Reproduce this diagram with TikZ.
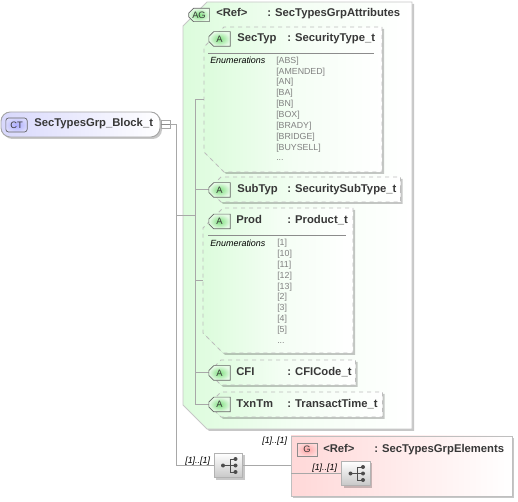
\documentclass[tikz,border=0pt]{standalone}
\usepackage{fontspec}
\setmainfont{Liberation Sans}
\usetikzlibrary{
	positioning,
	fit,
	shadows,
	shapes.misc
}
\definecolor{conncol}{HTML}{A8A8A8}
\definecolor{dashcol}{HTML}{BDBDBD}
\definecolor{attgreen}{HTML}{DCFCDC}
\definecolor{attmiddle}{HTML}{F4FEF4}
\definecolor{badgegreen}{HTML}{80E080}
\definecolor{badgepale}{HTML}{E6FBE6}
\definecolor{grppink}{HTML}{FFD8D8}
\definecolor{ctblue}{HTML}{D8D8FC}
\definecolor{enumgray}{HTML}{808080}
\definecolor{textdark}{HTML}{383838}

\begin{document}
\begin{tikzpicture}[
		x=0.75pt, y=-0.75pt,
		conn/.style={draw=conncol, line width=0.6pt},
		softshadow/.style={general shadow={fill=black, opacity=0.22, shadow xshift=1.5pt, shadow yshift=-1.5pt}},
		cham/.style={chamfered rectangle, chamfered rectangle corners={north west,south west}, inner sep=0pt, outer sep=0pt},
		attgroup/.style={cham, draw=black!22, line width=0.7pt, left color=attgreen, right color=white, middle color=attmiddle, chamfered rectangle xsep=9pt, chamfered rectangle ysep=9pt, softshadow},
		attbox/.style={cham, draw=dashcol, dashed, line width=0.7pt, left color=attgreen, right color=white, middle color=attmiddle, chamfered rectangle xsep=7.5pt, chamfered rectangle ysep=7.5pt, softshadow},
		attline/.style={cham, draw=dashcol, dashed, line width=0.7pt, left color=attgreen, right color=white, middle color=attmiddle, chamfered rectangle xsep=6pt, chamfered rectangle ysep=6pt, softshadow},
		badge/.style={cham, draw=black!60, line width=0.5pt, inner color=badgegreen, outer color=badgepale, minimum width=16pt, minimum height=11pt, chamfered rectangle xsep=1.8pt, chamfered rectangle ysep=1.8pt, font=\fontsize{7}{8}\selectfont, text=textdark},
		header/.style={anchor=base west, inner sep=0pt, font=\fontsize{8.45}{10}\selectfont\bfseries, text=textdark},
		enumlabel/.style={anchor=base west, inner sep=0pt, font=\fontsize{6.7}{8}\selectfont\itshape, text=black},
		enumlist/.style={anchor=north west, inner sep=0pt, align=left, font=\fontsize{6.6}{8.15}\selectfont, text=enumgray},
		occurs/.style={anchor=base west, inner sep=0pt, font=\fontsize{6.7}{8}\selectfont\itshape, text=black},
		seqnode/.style={draw=black!30, line width=0.6pt, top color=white, bottom color=black!22, minimum width=21.5pt, minimum height=18.5pt, inner sep=0pt, softshadow},
		seqicon/.pic={
			\fill[black!70] (-5.5,0) circle (2);
			\fill[black!70] (7,-6.5) circle (2);
			\fill[black!70] (7,0) circle (2);
			\fill[black!70] (7,6.5) circle (2);
			\draw[black!70, line width=0.5pt] (-5.5,0) -- (7,0) (7,-6.5) -- (1.5,-6.5) -- (1.5,6.5) -- (7,6.5);
		}
		]
		\useasboundingbox (0,0) rectangle (518,502);
		
		% =========================
		% Attribute group
		% =========================
		\node[attgroup, fit={(195,14) (400,417)}] (attgrp) {};
		\node[badge, minimum width=15.5pt, minimum height=10pt] (agbadge) at (199,15) {AG};
		\node[header] (agname) at (216,17) {<Ref>};
		\node[header] (agtype) at (267,17) {: SecTypesGrpAttributes};
		
		% =========================
		% Connectors in the group
		% =========================
		\coordinate (bustop) at (195,99.5);
		\coordinate (busbot) at (195,404.5);
		\coordinate (busjoin) at (195,215);
		
		\node[attbox, fit={(214,37) (372,162)}] (sectyp) {};
		\node[attline, fit={(213,185) (396,194)}] (subtyp) {};
		\node[attbox, fit={(213,218) (343,343)}] (prod) {};
		\node[attline, fit={(213,368) (351,377)}] (cfi) {};
		\node[attline, fit={(213,400) (378,409)}] (txntm) {};
		
		\draw[conn] (bustop) -- (busbot);
		\draw[conn] (bustop) -- (sectyp.west);
		\draw[conn] (bustop |- subtyp.west) -- (subtyp.west);
		\draw[conn] (bustop |- prod.west) -- (prod.west);
		\draw[conn] (bustop |- cfi.west) -- (cfi.west);
		\draw[conn] (busbot) -- (txntm.west);
		
		% =========================
		% SecTyp
		% =========================
		\node[badge] (sectypbadge) at (219.5,39) {A};
		\node[header] (sectypname) at (237,42) {SecTyp};
		\node[header] (sectyptype) at (287,42) {: SecurityType\_t};
		\coordinate (sectyprulea) at (208,53);
		\coordinate (sectypruleb) at (374,53);
		\draw[black!45, line width=0.5pt] (sectyprulea) -- (sectypruleb);
		\node[enumlabel] (sectypenum) at (210,64) {Enumerations};
		\node[enumlist] (sectypvals) at (276,56.5) {
			{[ABS]}\\
			{[AMENDED]}\\
			{[AN]}\\
			{[BA]}\\
			{[BN]}\\
			{[BOX]}\\
			{[BRADY]}\\
			{[BRIDGE]}\\
			{[BUYSELL]}\\
			...
		};
		
		% =========================
		% SubTyp
		% =========================
		\node[badge] (subtypbadge) at (219.5,190) {A};
		\node[header] (subtypname) at (237,192.5) {SubTyp};
		\node[header] (subtyptype) at (287,192.5) {: SecuritySubType\_t};
		
		% =========================
		% Prod
		% =========================
		\node[badge] (prodbadge) at (219.5,221.5) {A};
		\node[header] (prodname) at (236,224) {Prod};
		\node[header] (prodtype) at (287,224) {: Product\_t};
		\coordinate (prodrulea) at (208,235);
		\coordinate (prodruleb) at (346,235);
		\draw[black!45, line width=0.5pt] (prodrulea) -- (prodruleb);
		\node[enumlabel] (prodenum) at (210,246.5) {Enumerations};
		\node[enumlist] (prodvals) at (277,239) {
			{[1]}\\
			{[10]}\\
			{[11]}\\
			{[12]}\\
			{[13]}\\
			{[2]}\\
			{[3]}\\
			{[4]}\\
			{[5]}\\
			...
		};
		
		% =========================
		% CFI and TxnTm
		% =========================
		\node[badge] (cfibadge) at (219.5,373) {A};
		\node[header] (cfiname) at (236,375.5) {CFI};
		\node[header] (cfitype) at (287,375.5) {: CFICode\_t};
		\node[badge] (txntmbadge) at (219.5,404.5) {A};
		\node[header] (txntmname) at (236,407) {TxnTm};
		\node[header] (txntmtype) at (287,407) {: TransactTime\_t};
		
		% =========================
		% Root type
		% =========================
		\node[draw=black!35, line width=0.7pt, rounded corners=7pt, left color=ctblue, right color=white, softshadow, inner sep=0pt, outer sep=0pt, fit={(1,112) (160,137)}] (block) {};
		\node[draw=black!60, line width=0.5pt, rounded corners=2pt, inner color=blue!32!white, outer color=ctblue, minimum width=16pt, minimum height=10.5pt, inner sep=0pt, font=\fontsize{7}{8}\selectfont, text=textdark] (ctbadge) at (16.5,125) {CT};
		\node[header] (blockname) at (34,127) {SecTypesGrp\_Block\_t};
		\node[draw=black!35, line width=0.5pt, fill=white, minimum size=6.5pt, inner sep=0pt, outer sep=0pt] (collapse) at (165.5,124.5) {};
		\draw[black!45, line width=0.5pt] (collapse.west) -- (collapse.east);
		
		% =========================
		% Element group
		% =========================
		\node[draw=black!25, line width=0.7pt, left color=grppink, right color=white, softshadow, inner sep=0pt, outer sep=0pt, fit={(291,436) (512,496)}] (elemgrp) {};
		\node[draw=black!45, line width=0.5pt, inner color=red!35!white, outer color=grppink, minimum width=15pt, minimum height=10pt, inner sep=0pt, font=\fontsize{7}{8}\selectfont, text=textdark] (gbadge) at (307,449.5) {G};
		\node[header] (gname) at (323,452) {<Ref>};
		\node[header] (gtype) at (374,452) {: SecTypesGrpElements};
		
		\node[seqnode] (seqouter) at (228.5,465.5) {};
		\node[seqnode] (seqinner) at (356,473.5) {};
		\pic at (seqouter) {seqicon};
		\pic at (seqinner) {seqicon};
		
		\node[occurs] (occouter) at (185,463) {[1]..[1]};
		\node[occurs] (occgroup) at (262,443.5) {[1]..[1]};
		\node[occurs] (occinner) at (312,470.5) {[1]..[1]};
		
		% =========================
		% Arrows: root to children
		% =========================
		\coordinate (rootbus) at (176,124.5);
		\draw[conn] (collapse.east) -- (rootbus) |- (seqouter.west);
		\draw[conn] (rootbus |- busjoin) -- (busjoin);
		\draw[conn] (seqouter.east) -- (elemgrp.west |- seqouter.east);
		\draw[conn] (elemgrp.west |- seqinner.west) -- (seqinner.west);
		
	\end{tikzpicture}
\end{document}
